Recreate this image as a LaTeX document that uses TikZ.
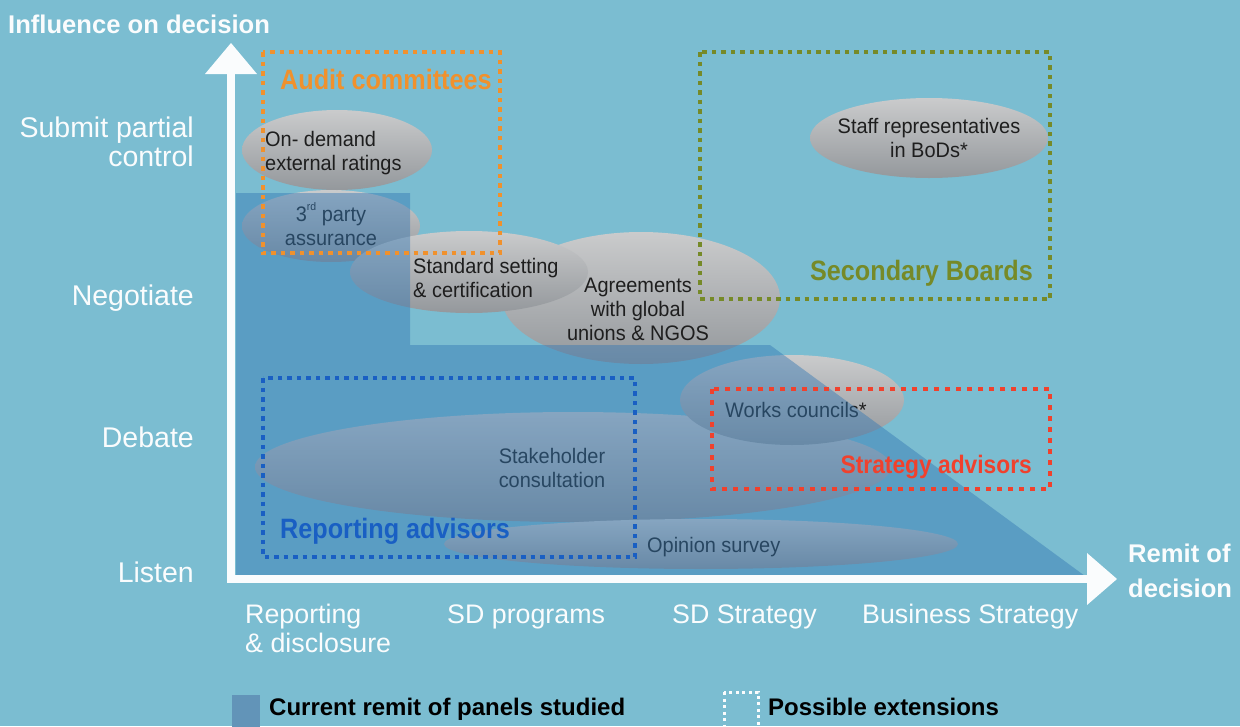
\documentclass[tikz,border=0pt]{standalone}
\usepackage{fontspec}
\setmainfont{Liberation Sans}
\newfontfamily\ellfont[FakeStretch=0.95]{Liberation Sans}
\newfontfamily\condfont[FakeStretch=0.9]{Liberation Sans}
\usetikzlibrary{shapes.geometric}
\definecolor{bgblue}{RGB}{123,189,209}
\definecolor{remit}{RGB}{52,120,180}
\definecolor{legsq}{RGB}{98,148,184}
\definecolor{elltop}{RGB}{202,203,204}
\definecolor{ellbot}{RGB}{148,152,156}
\definecolor{etxt}{RGB}{30,30,30}
\definecolor{dorange}{RGB}{240,145,45}
\definecolor{dolive}{RGB}{118,138,40}
\definecolor{dblue}{RGB}{25,95,195}
\definecolor{dred}{RGB}{240,65,45}
\definecolor{axwhite}{RGB}{250,252,253}
\newcommand{\supsm}[1]{\raisebox{0.5em}{\fontsize{11}{11}\selectfont #1}}
\begin{document}
\begin{tikzpicture}[x=1pt,y=-1pt,
  ell/.style={ellipse, inner sep=0pt, draw=none, top color=elltop, bottom color=ellbot},
  etext/.style={font={\ellfont\fontsize{21}{24}\selectfont}, text=etxt, inner sep=0pt},
  dotbox/.style={line width=4.5pt, dash pattern=on 4.5pt off 5pt},
  blabel/.style={font={\condfont\bfseries\fontsize{28}{30}\selectfont}, inner sep=0pt},
  ylab/.style={font={\fontsize{28.5}{30}\selectfont}, text=axwhite, inner sep=0pt},
  xlab/.style={font={\fontsize{26.8}{29}\selectfont}, text=axwhite, inner sep=0pt},
  wbold/.style={font={\bfseries\fontsize{25.6}{28}\selectfont}, text=axwhite, inner sep=0pt},
  legtext/.style={font={\bfseries\fontsize{24}{26}\selectfont}, text=black, inner sep=0pt}]
\useasboundingbox (0,0) rectangle (1240,726);
\fill[bgblue] (0,0) rectangle (1240,726);

% ellipses
\node[ell, minimum width=178pt, minimum height=72pt] (e3p) at (331,226) {};
\node[ell, minimum width=190pt, minimum height=80pt] (eod) at (337,150) {};
\node[ell, minimum width=278pt, minimum height=132pt] (eag) at (641,298) {};
\node[ell, minimum width=238pt, minimum height=82pt] (ess) at (469,272) {};
\node[ell, minimum width=238pt, minimum height=80pt] (est) at (929,138) {};
\node[ell, minimum width=636pt, minimum height=110pt] (esh) at (573,467) {};
\node[ell, minimum width=514pt, minimum height=50pt] (eop) at (701,544) {};
\node[ell, minimum width=224pt, minimum height=90pt] (ewc) at (792,400) {};

% ellipse texts (base anchor = baseline of last line)
\node[etext, anchor=base west, align=left] (tod) at (265,170) {On- demand\\external ratings};
\node[etext, anchor=base, align=center] (t3p) at (331,245) {3\supsm{rd} party\\assurance};
\node[etext, anchor=base west, align=left] (tss) at (413,297) {Standard setting\\\& certification};
\node[etext, anchor=base, align=center] (tag) at (638,340) {Agreements\\with global\\unions \& NGOS};
\node[etext, anchor=base, align=center] (tst) at (929,157) {Staff representatives\\in BoDs*};
\node[etext, anchor=base, align=center] (tsh) at (552,487) {Stakeholder\\consultation};
\node[etext, anchor=base west] (twc) at (725,417) {Works councils*};
\node[etext, anchor=base west] (top) at (647,552) {Opinion survey};

% current remit area
\fill[remit, opacity=0.45] (236,193) -- (410,193) -- (410,345) -- (770,345) -- (1085,576) -- (236,576) -- cycle;

% possible extensions
\draw[dotbox, dorange] (263,52) rectangle (500,253);
\draw[dotbox, dolive] (700,52) rectangle (1050,299);
\draw[dotbox, dblue] (263,378) rectangle (635,557);
\draw[dotbox, dred, dash pattern=on 5pt off 6pt] (712,389) rectangle (1050,489);

\node[blabel, text=dorange, anchor=base west] (lac) at (280,89) {Audit committees};
\node[blabel, text=dolive, anchor=base east] (lsb) at (1033,280) {Secondary Boards};
\node[blabel, text=dblue, anchor=base west] (lra) at (280,538) {Reporting advisors};
\node[blabel, text=dred, anchor=base east, font={\condfont\bfseries\fontsize{25.3}{28}\selectfont}] (lsa) at (1032,473) {Strategy advisors};

% axes
\coordinate (O) at (231,579);
\coordinate (Ytop) at (231,74);
\coordinate (Xend) at (1087,579);
\coordinate (Ytip) at (231,43);
\coordinate (Xtip) at (1117,579);
\draw[axwhite, line width=7.5pt] (Ytop) -- (O) -- (Xend);
\fill[axwhite] ([xshift=-26pt]Ytop) -- (Ytip) -- ([xshift=26pt]Ytop) -- cycle;
\fill[axwhite] ([yshift=26pt]Xend) -- (Xtip) -- ([yshift=-26pt]Xend) -- cycle;

\node[wbold, anchor=base west] (title) at (8,33) {Influence on decision};
\node[wbold, anchor=base west] (rem1) at (1128,562) {Remit of};
\node[wbold, anchor=base west] (rem2) at (1128,597) {decision};

% y labels
\node[ylab, anchor=base east] (y1a) at (194,137) {Submit partial};
\node[ylab, anchor=base east] (y1b) at (194,166) {control};
\node[ylab, anchor=base east] (y2) at (194,305) {Negotiate};
\node[ylab, anchor=base east] (y3) at (194,447) {Debate};
\node[ylab, anchor=base east] (y4) at (194,582) {Listen};

% x labels
\node[xlab, anchor=base west] (x1a) at (245,623) {Reporting};
\node[xlab, anchor=base west] (x1b) at (245,652) {\& disclosure};
\node[xlab, anchor=base west] (x2) at (447,623) {SD programs};
\node[xlab, anchor=base west] (x3) at (672,623) {SD Strategy};
\node[xlab, anchor=base west] (x4) at (862,623) {Business Strategy};

% legend
\fill[legsq] (232,695) rectangle (260,730);
\node[legtext, anchor=base west] (leg1) at (269,715) {Current remit of panels studied};
\draw[axwhite, line width=3pt, dash pattern=on 3pt off 3.5pt] (724,692) rectangle (758,740);
\node[legtext, anchor=base west] (leg2) at (768,715) {Possible extensions};
\end{tikzpicture}
\end{document}
